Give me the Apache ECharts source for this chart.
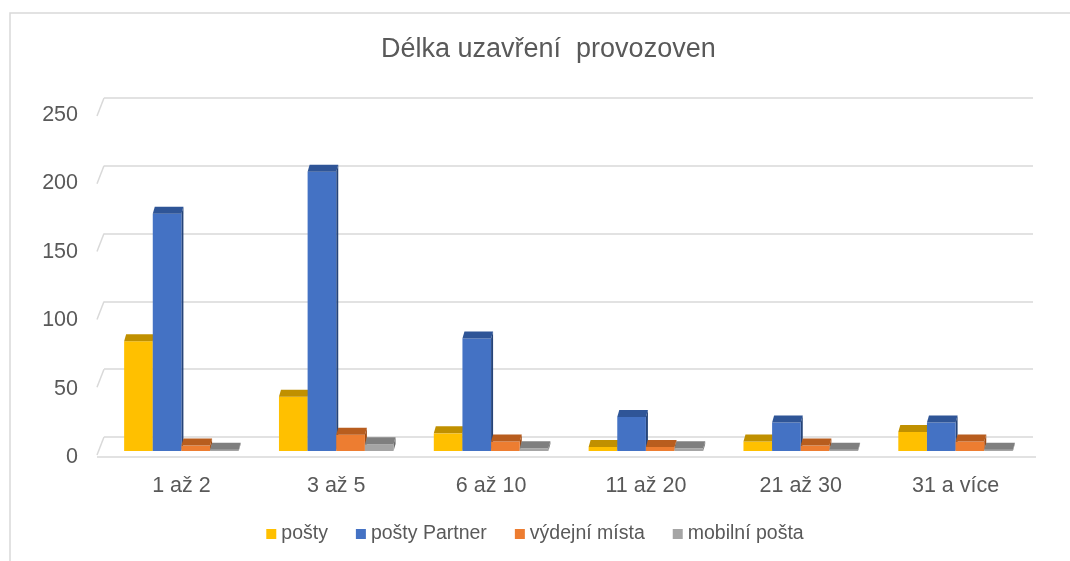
<!DOCTYPE html>
<html>
<head>
<meta charset="utf-8">
<script src="https://cdn.jsdelivr.net/npm/echarts@6/dist/echarts.min.js"></script>
<style>
  html, body { margin: 0; padding: 0; background: #fff; }
  #chart { width: 1070px; height: 561px; }
</style>
</head>
<body>
<div id="chart"></div>
<script>
'use strict';

var categories = ['1 až 2', '3 až 5', '6 až 10', '11 až 20', '21 až 30', '31 a více'];
var seriesNames = ['pošty', 'pošty Partner', 'výdejní místa', 'mobilní pošta'];
var postyVals = [81, 40, 13, 3, 7, 14];
var partnerVals = [175, 206, 83, 25, 21, 21];
var vydejniVals = [4, 12, 7, 3, 4, 7];
var mobilniVals = [1, 5, 2, 2, 1, 1];
var yTicks = [0, 50, 100, 150, 200, 250];

var frontColors = ['#FFC000', '#4472C4', '#ED7D31', '#A5A5A5'];
var topColors = ['#C09000', '#2F5597', '#B85D1E', '#7F7F7F'];
var sideColors = ['#A67C00', '#264478', '#9E4A14', '#6B6B6B'];

var FONT = '"Liberation Sans", Arial, sans-serif';
var DEPTH_Y = 14;   // front face of the bars sits below the back wall
var TOP_H = 7;      // height of the visible top face
var TOP_DX = 2;

var chart = echarts.init(document.getElementById('chart'));

function barItem(params, api) {
    var idx = params.seriesIndex;
    var band = api.size([1, 0])[0];
    var bw = band * 0.185;
    var p = api.coord([api.value(0), api.value(1)]);
    var b = api.coord([api.value(0), 0]);
    var x = p[0] - 2 * bw + idx * bw;
    var yTop = p[1] + DEPTH_Y;
    var yBot = b[1] + DEPTH_Y;
    return {
        type: 'group',
        children: [
            {
                type: 'polygon',
                shape: { points: [[x + bw, yTop], [x + bw, yBot], [x + bw + TOP_DX, yBot - TOP_H], [x + bw + TOP_DX, yTop - TOP_H]] },
                style: { fill: sideColors[idx] }
            },
            {
                type: 'rect',
                shape: { x: x, y: yTop, width: bw, height: yBot - yTop },
                style: { fill: frontColors[idx] }
            },
            {
                type: 'polygon',
                shape: { points: [[x, yTop], [x + bw, yTop], [x + bw + TOP_DX, yTop - TOP_H], [x + TOP_DX, yTop - TOP_H]] },
                style: { fill: topColors[idx] }
            }
        ]
    };
}

function toData(vals) {
    return vals.map(function (v, i) { return [i, v]; });
}

var allVals = [postyVals, partnerVals, vydejniVals, mobilniVals];
var series = allVals.map(function (vals, i) {
    return {
        name: seriesNames[i],
        type: 'custom',
        renderItem: barItem,
        itemStyle: { color: frontColors[i] },
        encode: { x: 0, y: 1 },
        data: toData(vals),
        z: 3
    };
});

// slanted ends of the gridlines and the front edge of the floor
series.push({
    name: 'floor',
    type: 'custom',
    silent: true,
    z: 1,
    renderItem: function (params, api) {
        var y = api.coord([0, api.value(0)])[1];
        var x0 = params.coordSys.x;
        var kids = [{
            type: 'line',
            shape: { x1: x0, y1: y, x2: x0 - 7, y2: y + 18 },
            style: { stroke: '#d9d9d9', lineWidth: 1.5 }
        }];
        if (api.value(0) === 0) {
            kids.push({
                type: 'line',
                shape: { x1: x0 - 7, y1: y + 20, x2: x0 + params.coordSys.width + 3, y2: y + 20 },
                style: { stroke: '#d9d9d9', lineWidth: 1.5 }
            });
        }
        return { type: 'group', children: kids };
    },
    encode: { y: 0 },
    data: yTicks.map(function (t) { return [t]; })
});

var option = {
    animation: false,
    textStyle: { fontFamily: FONT },
    title: {
        text: 'Délka uzavření  provozoven',
        left: 376,
        top: 31,
        textStyle: { fontSize: 27, fontWeight: 'normal', color: '#595959', fontFamily: FONT }
    },
    graphic: [{
        type: 'rect',
        shape: { x: 10, y: 13, width: 1080, height: 600 },
        style: { fill: 'none', stroke: '#d9d9d9', lineWidth: 1.5 },
        silent: true
    }],
    legend: {
        data: seriesNames,
        bottom: 12,
        left: 'center',
        itemWidth: 10,
        itemHeight: 10,
        itemGap: 28,
        icon: 'rect',
        textStyle: { fontSize: 19.5, color: '#595959', fontFamily: FONT }
    },
    grid: [
        { left: 104, right: 37, top: 98, height: 339 },
        // front plane, used only for the value labels
        { left: 104, right: 37, top: 115, height: 342 }
    ],
    xAxis: [
        {
            type: 'category',
            data: categories,
            gridIndex: 0,
            axisLine: { show: false },
            axisTick: { show: false },
            axisLabel: { margin: 38, fontSize: 21.5, color: '#595959', fontFamily: FONT }
        },
        { type: 'category', data: categories, gridIndex: 1, show: false }
    ],
    yAxis: [
        {
            type: 'value',
            gridIndex: 0,
            min: 0,
            max: 250,
            interval: 50,
            axisLine: { show: false },
            axisTick: { show: false },
            axisLabel: { show: false },
            splitLine: { lineStyle: { color: '#d9d9d9', width: 1.5 } }
        },
        {
            type: 'value',
            gridIndex: 1,
            min: 0,
            max: 250,
            interval: 50,
            axisLine: { show: false },
            axisTick: { show: false },
            splitLine: { show: false },
            axisLabel: { margin: 26, fontSize: 21.5, color: '#595959', fontFamily: FONT }
        }
    ],
    series: series
};

chart.setOption(option);
</script>
</body>
</html>
